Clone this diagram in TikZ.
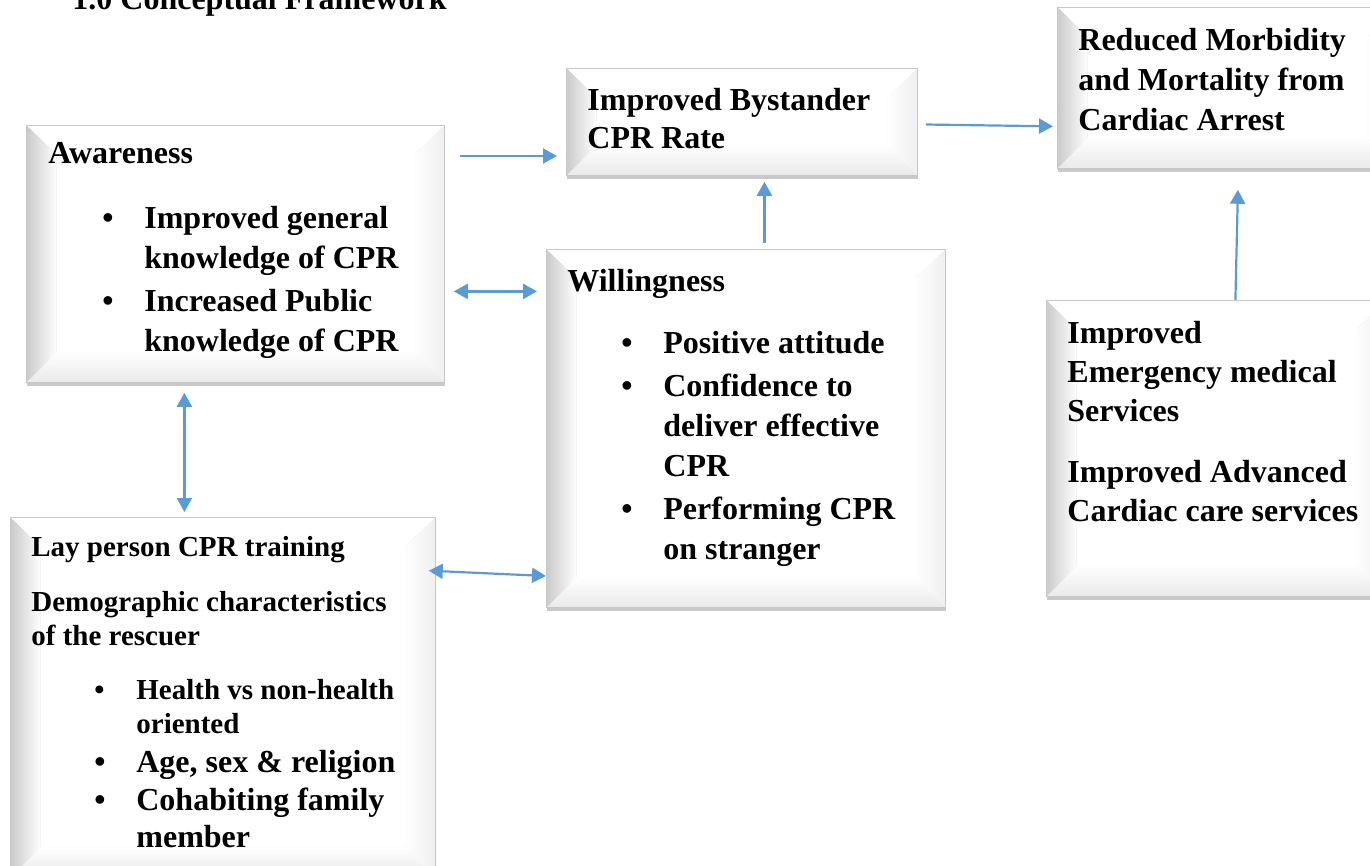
\documentclass[tikz,border=0pt]{standalone}
\usepackage{fontspec}
\setmainfont{Liberation Serif}
\usepackage{xcolor}
\usetikzlibrary{positioning, shadows, arrows.meta}

\definecolor{linkblue}{HTML}{5B9BD5}

% bullet line and its continuation
\newcommand{\bitem}[1][27pt]{\hspace*{#1}\makebox[21pt][l]{\textbullet}}
\newcommand{\bcont}[1][48pt]{\hspace*{#1}}

\begin{document}
\begin{tikzpicture}[x=0.5pt, y=-0.5pt,
    panel/.style={draw=black!22, fill=white, inner sep=0pt, anchor=north west,
      drop shadow={shadow xshift=0.5pt, shadow yshift=-2pt, opacity=.3, fill=black!70},
      path picture={
        % bevelled edges, painted from outside in
        \foreach \i in {0,...,14}{
          \pgfmathsetmacro{\gl}{20*(1-\i/15)}
          \pgfmathsetmacro{\gb}{8*(1-\i/15)}
          \pgfmathsetmacro{\gr}{6*(1-\i/15)}
          \fill[black!\gb] ([shift={(\i*1pt,\i*1pt)}]path picture bounding box.south west)
            -- ([shift={(-\i*1pt,\i*1pt)}]path picture bounding box.south east)
            -- ([shift={(-15pt,15pt)}]path picture bounding box.south east)
            -- ([shift={(15pt,15pt)}]path picture bounding box.south west) -- cycle;
          \fill[black!\gr] ([shift={(-\i*1pt,\i*1pt)}]path picture bounding box.south east)
            -- ([shift={(-\i*1pt,-\i*1pt)}]path picture bounding box.north east)
            -- ([shift={(-15pt,-15pt)}]path picture bounding box.north east)
            -- ([shift={(-15pt,15pt)}]path picture bounding box.south east) -- cycle;
          \fill[black!\gl] ([shift={(\i*1pt,\i*1pt)}]path picture bounding box.south west)
            -- ([shift={(\i*1pt,-\i*1pt)}]path picture bounding box.north west)
            -- ([shift={(15pt,-15pt)}]path picture bounding box.north west)
            -- ([shift={(15pt,15pt)}]path picture bounding box.south west) -- cycle;
        }
        \draw[black!40, line width=1pt] (path picture bounding box.south west) -- (path picture bounding box.north west);
      }},
    txt/.style={anchor=north west, align=left, inner sep=0pt, font=\bfseries\fontsize{16}{20}\selectfont},
    link/.style={linkblue, line width=1.1pt, -{Triangle[length=7pt, width=7.5pt]}},
    twoway/.style={link, {Triangle[length=7pt, width=7.5pt]}-{Triangle[length=7pt, width=7.5pt]}}]

    \useasboundingbox (0,0) rectangle (1370,866);

    \node[anchor=base west, inner sep=0pt, font=\bfseries\fontsize{16}{20}\selectfont] (title) at (72,10) {1.0 Conceptual Framework};

    % boxes
    \node[panel, minimum width=209pt, minimum height=128.5pt] (aw) at (26,125) {};
    \node[panel, minimum width=175.5pt, minimum height=53.5pt] (by) at (566,68) {};
    \node[panel, minimum width=170pt, minimum height=80.5pt] (rd) at (1057,7) {};
    \node[panel, minimum width=199.5pt, minimum height=179pt] (wi) at (546,249) {};
    \node[panel, minimum width=170pt, minimum height=148pt] (em) at (1046,300) {};
    \node[panel, minimum width=212.5pt, minimum height=180pt] (lay) at (10,517) {};

    % texts
    \node[txt] (awtxt) at (48,142) {Awareness\\[12.5pt]
        \bitem Improved general\\ \bcont knowledge of CPR\\[1.5pt]
        \bitem Increased Public\\ \bcont knowledge of CPR};
    \node[txt, font=\bfseries\fontsize{16}{19}\selectfont] (bytxt) at (587,88) {Improved Bystander\\CPR Rate};
    \node[txt] (rdtxt) at (1078,28) {Reduced Morbidity\\and Mortality from\\Cardiac Arrest};
    \node[txt] (witxt) at (567,269) {Willingness\\[11pt]
        \bitem Positive attitude\\[1.5pt]
        \bitem Confidence to\\ \bcont deliver effective\\ \bcont CPR\\[1.5pt]
        \bitem Performing CPR\\ \bcont on stranger};
    \node[txt, font=\bfseries\fontsize{16}{19.5}\selectfont] (emtxt) at (1067,321) {Improved\\Emergency medical\\Services\\[11pt]
        Improved Advanced\\Cardiac care services};
    \node[txt, font=\bfseries\fontsize{14.5}{17}\selectfont] (laytxt) at (31,536) {Lay person CPR training\\[10.5pt]
        Demographic characteristics\\of the rescuer\\[10pt]
        \bitem[31.5pt]Health vs non-health\\ \bcont[52.5pt]oriented\\[2.5pt]
        {\fontsize{16}{20}\selectfont\bitem[31.5pt]Age, sex \& religion}\\[2pt]
        {\fontsize{16}{20}\selectfont\bitem[31.5pt]Cohabiting family}\\[1.5pt]
        {\fontsize{16}{20}\selectfont\bcont[52.5pt]member}};

    % connectors
    \draw[link, shorten <=7.5pt, shorten >=4.5pt] ([yshift=-15.5pt]aw.north east) -- ([yshift=-15.5pt]aw.north east -| by.west);
    \draw[link, shorten <=4pt, shorten >=2pt] ([yshift=-1.25pt]by.east) -- ([yshift=-19.25pt]rd.west);
    \draw[link, shorten <=3pt, shorten >=3pt] ([xshift=9.25pt]wi.north) -- ([xshift=9.25pt]wi.north |- by.south);
    \draw[link, shorten >=10.5pt] ([xshift=9.5pt]em.north) -- ([xshift=5.5pt]rd.south);
    \draw[twoway, shorten <=4.5pt, shorten >=4.5pt] ([yshift=-18.75pt]aw.east) -- ([yshift=-18.75pt]aw.east -| wi.west);
    \draw[twoway, shorten <=5pt, shorten >=2.5pt] ([xshift=-25.5pt]aw.south) -- ([xshift=-25.5pt]aw.south |- lay.north);
    \draw[twoway, shorten <=-3.5pt] ([yshift=-27pt]lay.north east) -- ([yshift=-163.5pt]wi.north west);
\end{tikzpicture}
\end{document}
